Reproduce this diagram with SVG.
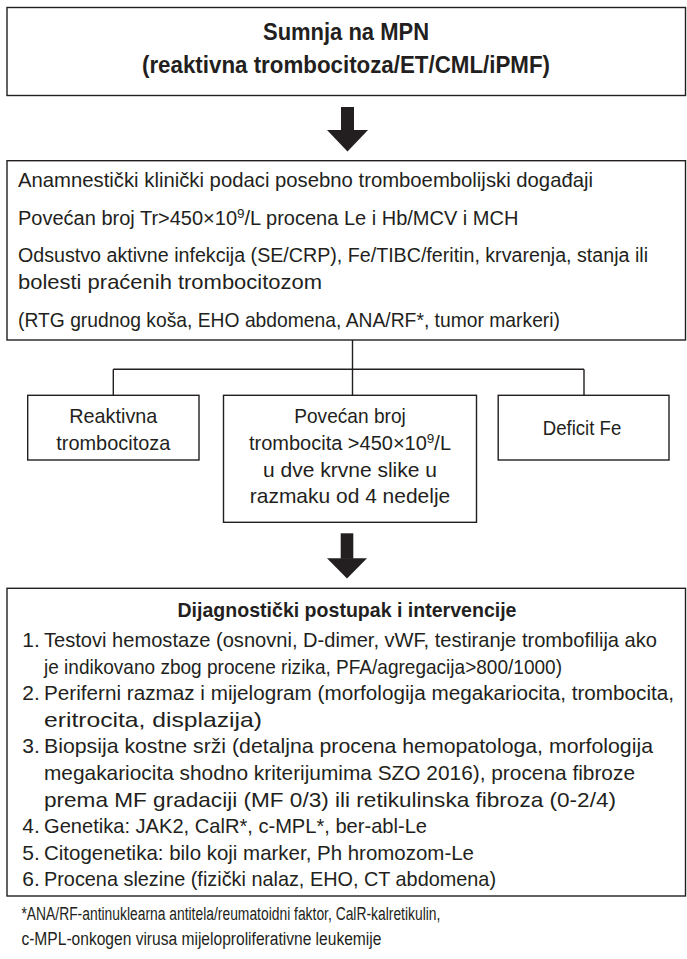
<svg xmlns="http://www.w3.org/2000/svg" width="687" height="959" viewBox="0 0 687 959">
<style>
.box{fill:#fff;stroke:#231f20;stroke-width:1.4}
.t{font-family:"Liberation Sans","Arial",sans-serif;font-size:21px;fill:#231f20}
.b{font-weight:bold}
.c{text-anchor:middle}
.s{font-size:13.5px}
.f{font-size:18px}
.ln{stroke:#231f20;stroke-width:1.4;fill:none}
.ar{fill:#231f20}
</style>
<rect width="687" height="959" fill="#fff"/>
<g id="n1">
<rect class="box" x="7" y="7.5" width="678.5" height="88"/>
<text class="t b c" x="346" y="40" style="font-size:23px" textLength="166" lengthAdjust="spacingAndGlyphs">Sumnja na MPN</text>
<text class="t b c" x="346" y="73" style="font-size:23px" textLength="408" lengthAdjust="spacingAndGlyphs">(reaktivna trombocitoza/ET/CML/iPMF)</text>
</g>
<g id="n2">
<rect class="box" x="7" y="160.7" width="678.5" height="179.3"/>
<text class="t" x="18" y="187" textLength="575" lengthAdjust="spacingAndGlyphs">Anamnestički klinički podaci posebno tromboembolijski događaji</text>
<text class="t" x="18" y="225" style="font-size:20px">Povećan broj Tr&gt;450×10<tspan class="s" baseline-shift="7">9</tspan>/L procena Le i Hb/MCV i MCH</text>
<text class="t" x="18" y="262" style="font-size:20px" textLength="630" lengthAdjust="spacingAndGlyphs">Odsustvo aktivne infekcija (SE/CRP), Fe/TIBC/feritin, krvarenja, stanja ili</text>
<text class="t" x="18" y="289" textLength="304" lengthAdjust="spacingAndGlyphs">bolesti praćenih trombocitozom</text>
<text class="t" x="18" y="327" textLength="542" lengthAdjust="spacingAndGlyphs">(RTG grudnog koša, EHO abdomena, ANA/RF*, tumor markeri)</text>
</g>
<g id="n3">
<rect class="box" x="27.7" y="395.3" width="171.3" height="64.7"/>
<text class="t c" x="113.3" y="423.3" textLength="88" lengthAdjust="spacingAndGlyphs">Reaktivna</text>
<text class="t c" x="113.3" y="449.5" textLength="114" lengthAdjust="spacingAndGlyphs">trombocitoza</text>
</g>
<g id="n4">
<rect class="box" x="223.5" y="395.3" width="253" height="127"/>
<text class="t c" x="350" y="423.3" textLength="111.5" lengthAdjust="spacingAndGlyphs">Povećan broj</text>
<text class="t c" x="350" y="450" style="font-size:20px">trombocita &gt;450×10<tspan class="s" baseline-shift="7">9</tspan>/L</text>
<text class="t c" x="350" y="476.6" textLength="174" lengthAdjust="spacingAndGlyphs">u dve krvne slike u</text>
<text class="t c" x="350" y="503.3" textLength="200.5" lengthAdjust="spacingAndGlyphs">razmaku od 4 nedelje</text>
</g>
<g id="n5">
<rect class="box" x="498.2" y="395.3" width="170.8" height="64.7"/>
<text class="t c" x="582" y="435" textLength="78.5" lengthAdjust="spacingAndGlyphs">Deficit Fe</text>
</g>
<g id="n6">
<rect class="box" x="7" y="588.3" width="678.5" height="307.7"/>
<text class="t b c" x="347" y="616.7" textLength="339" lengthAdjust="spacingAndGlyphs">Dijagnostički postupak i intervencije</text>
<g class="t">
<text x="22.3" y="647">1.</text><text x="44" y="647" textLength="613" lengthAdjust="spacingAndGlyphs">Testovi hemostaze (osnovni, D-dimer, vWF, testiranje trombofilija ako</text>
<text x="44" y="673.6" textLength="518" lengthAdjust="spacingAndGlyphs">je indikovano zbog procene rizika, PFA/agregacija&gt;800/1000)</text>
<text x="22.3" y="700.2">2.</text><text x="44" y="700.2" style="font-size:20px" textLength="630" lengthAdjust="spacingAndGlyphs">Periferni razmaz i mijelogram (morfologija megakariocita, trombocita,</text>
<text x="44" y="726.8" textLength="218" lengthAdjust="spacingAndGlyphs">eritrocita, displazija)</text>
<text x="22.3" y="753.4">3.</text><text x="44" y="753.4" textLength="609" lengthAdjust="spacingAndGlyphs">Biopsija kostne srži (detaljna procena hemopatologa, morfologija</text>
<text x="44" y="780" textLength="591" lengthAdjust="spacingAndGlyphs">megakariocita shodno kriterijumima SZO 2016), procena fibroze</text>
<text x="44" y="806.6" textLength="572" lengthAdjust="spacingAndGlyphs">prema MF gradaciji (MF 0/3) ili retikulinska fibroza (0-2/4)</text>
<text x="22.3" y="833.2">4.</text><text x="44" y="833.2" textLength="383" lengthAdjust="spacingAndGlyphs">Genetika: JAK2, CalR*, c-MPL*, ber-abl-Le</text>
<text x="22.3" y="859.8">5.</text><text x="44" y="859.8" textLength="430" lengthAdjust="spacingAndGlyphs">Citogenetika: bilo koji marker, Ph hromozom-Le</text>
<text x="22.3" y="886.4">6.</text><text x="44" y="886.4" textLength="452" lengthAdjust="spacingAndGlyphs">Procena slezine (fizički nalaz, EHO, CT abdomena)</text>
</g>
</g>
<g id="footnote">
<text class="t f" x="21.4" y="920" textLength="419" lengthAdjust="spacingAndGlyphs">*ANA/RF-antinuklearna antitela/reumatoidni faktor, CalR-kalretikulin,</text>
<text class="t f" x="21.4" y="945" textLength="360" lengthAdjust="spacingAndGlyphs">c-MPL-onkogen virusa mijeloproliferativne leukemije</text>
</g>
<g id="connectors">
<rect class="ar" x="341" y="107" width="13" height="24"/>
<polygon class="ar" points="327,130 368,130 347.5,151.5"/>
<path class="ln" d="M352.5,340 V369.3 M113.3,369.3 H584 M113.3,369.3 V395.3 M352.5,369.3 V395.3 M584,369.3 V395.3"/>
<rect class="ar" x="340.7" y="533.3" width="12.6" height="25.5"/>
<polygon class="ar" points="327,558.3 367,558.3 347,578.5"/>
</g>
</svg>
